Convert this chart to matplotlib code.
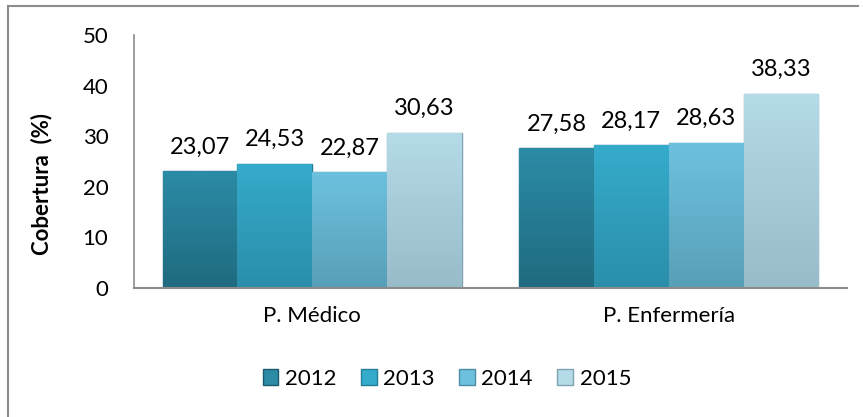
import matplotlib
matplotlib.use("Agg")
import matplotlib.pyplot as plt
import numpy as np
from matplotlib.patches import Patch
from matplotlib.lines import Line2D
from matplotlib.colors import LinearSegmentedColormap

plt.rcParams['font.family'] = ['Lato', 'DejaVu Sans']

categories = ["P. Médico", "P. Enfermería"]
years = ["2012", "2013", "2014", "2015"]
values = {
    "2012": [23.07, 27.58],
    "2013": [24.53, 28.17],
    "2014": [22.87, 28.63],
    "2015": [30.63, 38.33],
}
labels = {
    "2012": ["23,07", "27,58"],
    "2013": ["24,53", "28,17"],
    "2014": ["22,87", "28,63"],
    "2015": ["30,63", "38,33"],
}
yticks = [0, 10, 20, 30, 40, 50]

# (top colour, bottom colour) per series
colors = {
    "2012": ("#2C8BA5", "#1F6B80"),
    "2013": ("#35ABCB", "#2A8EAA"),
    "2014": ("#6DC1DE", "#589FB8"),
    "2015": ("#B5DAE8", "#98BCC9"),
}
edge = {"2012": "#1A5A6C", "2013": "#237E97", "2014": "#4C8DA4", "2015": "#7FA3B0"}

W, H = 863, 417
fig = plt.figure(figsize=(W / 100, H / 100), dpi=100)
ax = fig.add_axes([134 / W, 1 - 288 / H, (847 - 134) / W, (288 - 35) / H])

x = np.arange(len(categories))
bw = 0.21
n = len(years)
for i, yr in enumerate(years):
    pos = x + (i - (n - 1) / 2) * bw
    top, bot = colors[yr]
    bars = ax.bar(pos, values[yr], width=bw, color=top, edgecolor=edge[yr],
                  linewidth=1.0, zorder=2)
    cmap = LinearSegmentedColormap.from_list("g" + yr, [bot, top])
    for b, lab in zip(bars, labels[yr]):
        grad = np.linspace(0, 1, 100).reshape(-1, 1)
        im = ax.imshow(grad, cmap=cmap, aspect='auto', origin='lower',
                       extent=[b.get_x(), b.get_x() + b.get_width(), 0, b.get_height()],
                       zorder=2.1)
        im.set_clip_path(b)
        ax.annotate(lab, (b.get_x() + b.get_width() / 2, b.get_height()),
                    xytext=(0, 10), textcoords='offset points', ha='center',
                    va='bottom', fontsize=17, color='black')

ax.set_xlim(-0.5, 1.5)
ax.set_ylim(0, 50)
ax.set_yticks(yticks)
ax.set_yticklabels([str(t) for t in yticks], fontsize=16)
ax.set_xticks(x)
ax.set_xticklabels(categories, fontsize=16)
ax.tick_params(axis='y', length=0, pad=18.5)
ax.tick_params(axis='x', length=0, pad=13)
for s in ['top', 'right']:
    ax.spines[s].set_visible(False)
ax.spines['left'].set_color('#8C8C8C')
ax.spines['bottom'].set_color('#8C8C8C')
ax.spines['left'].set_linewidth(1.2)
ax.spines['bottom'].set_linewidth(1.5)

fig.text(42 / W, 1 - 184 / H, "Cobertura  (%)", rotation=90, ha='center',
         va='center', fontsize=16, fontweight='bold')

handles = [Patch(facecolor=colors[yr][0], edgecolor=edge[yr]) for yr in years]
fig.legend(handles, years, loc='center', bbox_to_anchor=(447 / W, 1 - 379 / H),
           ncol=4, frameon=False, fontsize=16, handlelength=0.7, handleheight=0.7,
           handletextpad=0.3, columnspacing=1.1)

# outer chart border (top and left visible)
fig.add_artist(Line2D([8 / W, 858 / W], [1 - 6 / H, 1 - 6 / H], color='#8C8C8C', lw=1.5,
                      transform=fig.transFigure))
fig.add_artist(Line2D([8 / W, 8 / W], [0, 1 - 6 / H], color='#8C8C8C', lw=1.5,
                      transform=fig.transFigure))

fig.savefig("out.png", dpi=100)
